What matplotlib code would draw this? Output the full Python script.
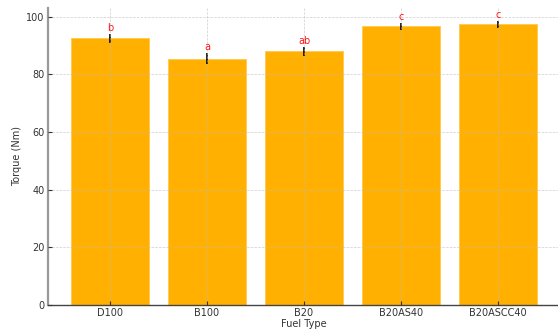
import numpy as np
import matplotlib
matplotlib.use('Agg')
import matplotlib.pyplot as plt

# data
fuels = ['D100', 'B100', 'B20', 'B20AS40', 'B20ASCC40']
torque = [92.5, 85.4, 88.0, 96.6, 97.3]
err = [1.5, 1.9, 1.5, 1.2, 1.1]
letters = ['b', 'a', 'ab', 'c', 'c']

fig = plt.figure(figsize=(5.58, 3.29), dpi=100)
ax = fig.add_axes([48/558, 24/329, 512/558, 297/329])

x = np.arange(len(fuels))
ax.bar(x, torque, width=0.8, color='#ffb000', edgecolor='#ffc84d', linewidth=0.6,
       yerr=err, error_kw=dict(ecolor='black', elinewidth=1.2, capsize=0))

for xi, t, e, l in zip(x, torque, err, letters):
    ax.text(xi, t + e + 0.3, l, color='red', ha='center', va='bottom', fontsize=7, alpha=0.9)

ax.set_xticks(x)
ax.set_xticklabels(fuels)
ax.set_xlim(-0.64, 4.64)
ax.set_ylim(0, 103)
ax.set_yticks([0, 20, 40, 60, 80, 100])
ax.set_ylabel('Torque (Nm)', fontsize=7, color='#333333')
ax.set_xlabel('Fuel Type', fontsize=7, color='#333333')
ax.yaxis.set_label_coords(-26/512, 0.5)
ax.xaxis.set_label_coords(0.5, -14/297)

ax.tick_params(labelsize=7, colors='#333333', direction='in', length=3, width=0.8, pad=2.5)
ax.grid(True, linestyle='--', color='#bbbbbb', linewidth=0.5, alpha=0.7)
ax.set_axisbelow(False)

for s in ['top', 'right']:
    ax.spines[s].set_visible(False)
ax.spines['left'].set_color('#999999')
ax.spines['left'].set_linewidth(1.6)
ax.spines['bottom'].set_color('#444444')
ax.spines['bottom'].set_linewidth(1.0)

fig.savefig('out.png', dpi=100)
